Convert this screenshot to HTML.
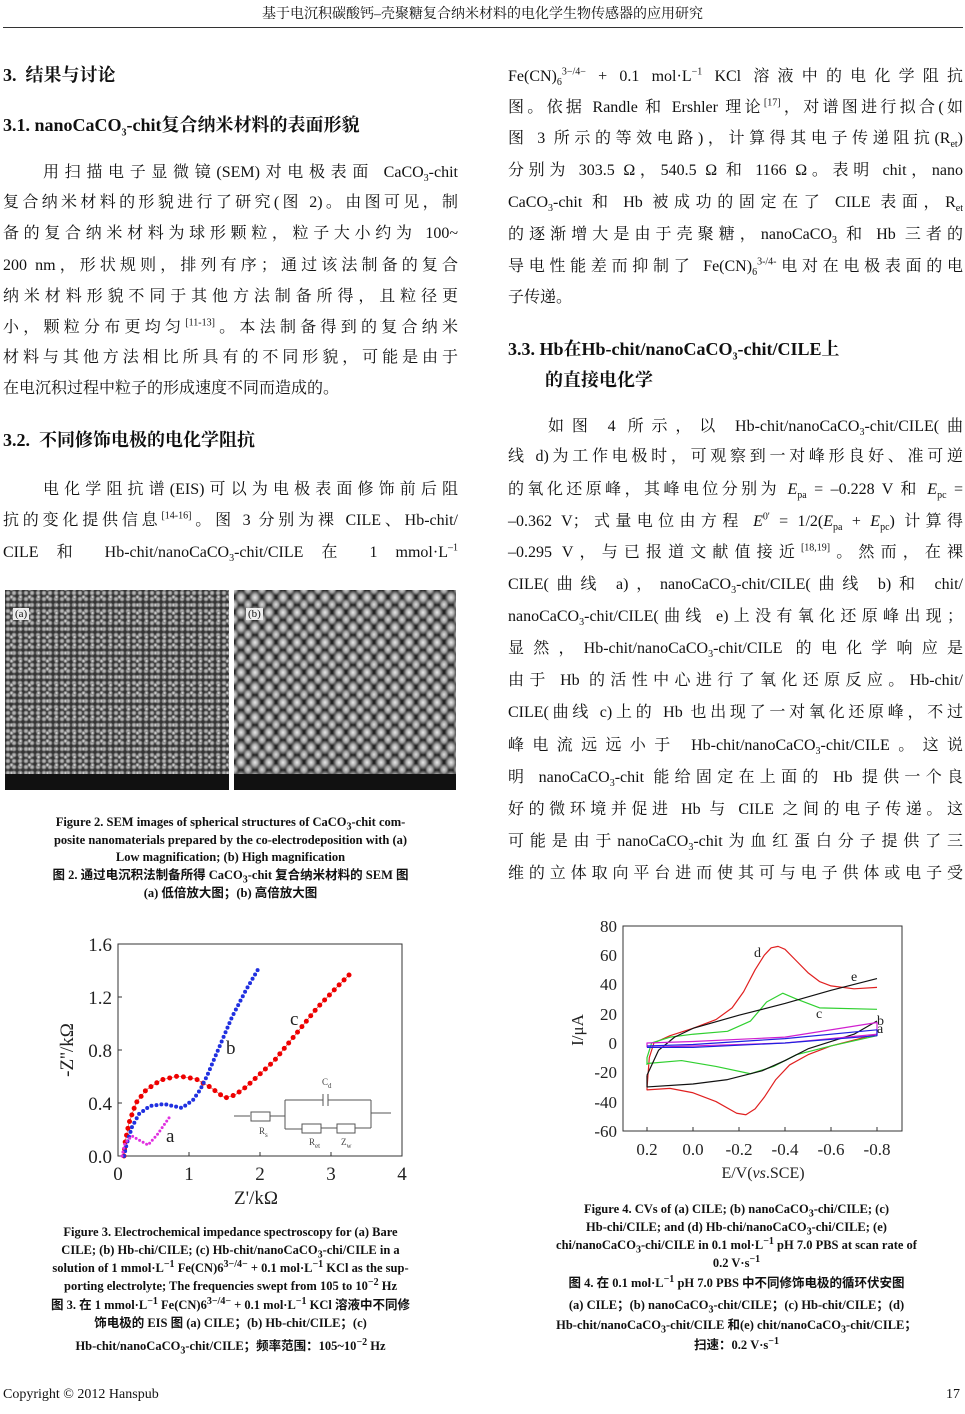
<!DOCTYPE html>
<html><head><meta charset="utf-8">
<style>
body{margin:0;width:965px;height:1414px;position:relative;background:#fff;font-family:"Liberation Serif","Noto Serif CJK SC","Noto Sans CJK SC",serif;color:#111;overflow:hidden}
.l{position:absolute;font-size:16px;line-height:22px;white-space:nowrap}
.L{left:3px;width:455px}
.R{left:508px;width:455px}
.j{text-align:justify;text-align-last:justify}
.h{font-weight:bold;font-size:18px}
.c{position:absolute;font-size:12.5px;font-weight:bold;line-height:18px;text-align:center;white-space:nowrap;font-family:"Liberation Serif","Noto Sans CJK SC",serif}
sub,sup{font-size:10px;line-height:0}
.sem{position:absolute;top:590px;height:200px;background:#555;overflow:hidden}
</style></head><body>
<div style="position:absolute;top:3px;left:0;width:965px;text-align:center;font-size:14px;font-family:'Liberation Serif','Noto Serif CJK SC',serif">基于电沉积碳酸钙–壳聚糖复合纳米材料的电化学生物传感器的应用研究</div>
<div style="position:absolute;top:27px;left:3px;width:960px;border-top:1px solid #333"></div>

<div class="l L h" style="top:64px">3.&nbsp; 结果与讨论</div>
<div class="l L h" style="top:114px">3.1. nanoCaCO<sub>3</sub>-chit复合纳米材料的表面形貌</div>
<div class="l L j" style="top:162px;left:43px;width:415px">用扫描电子显微镜(SEM)对电极表面 CaCO<sub>3</sub>-chit</div>
<div class="l L j" style="top:192px">复合纳米材料的形貌进行了研究(图 2)。由图可见，制</div>
<div class="l L j" style="top:223px">备的复合纳米材料为球形颗粒，粒子大小约为 100~</div>
<div class="l L j" style="top:255px">200 nm，形状规则，排列有序；通过该法制备的复合</div>
<div class="l L j" style="top:286px">纳米材料形貌不同于其他方法制备所得，且粒径更</div>
<div class="l L j" style="top:317px">小，颗粒分布更均匀<sup>[11-13]</sup>。本法制备得到的复合纳米</div>
<div class="l L j" style="top:347px">材料与其他方法相比所具有的不同形貌，可能是由于</div>
<div class="l L" style="top:378px">在电沉积过程中粒子的形成速度不同而造成的。</div>
<div class="l L h" style="top:429px">3.2.&nbsp; 不同修饰电极的电化学阻抗</div>
<div class="l L j" style="top:479px;left:43px;width:415px">电化学阻抗谱(EIS)可以为电极表面修饰前后阻</div>
<div class="l L j" style="top:510px">抗的变化提供信息<sup>[14-16]</sup>。图 3 分别为裸 CILE、Hb-chit/</div>
<div class="l L j" style="top:542px">CILE 和 Hb-chit/nanoCaCO<sub>3</sub>-chit/CILE 在 1 mmol·L<sup>–1</sup></div>

<div class="sem" style="left:5px;width:224px;background:radial-gradient(circle,#ccc 0,#999 1.5px,#333 3px) 0 0/6px 6px,#444"><div style="position:absolute;inset:0;background:radial-gradient(circle,#eee 0,#888 1.5px,transparent 2.5px) 2px 3px/9px 8px"></div><div style="position:absolute;bottom:0;left:0;right:0;height:16px;background:#111"></div><div style="position:absolute;top:18px;left:8px;background:#eee;font-size:11px;padding:0 2px">(a)</div></div>
<div class="sem" style="left:234px;width:222px;background:radial-gradient(ellipse 45% 50%,#e8e8e8 0,#aaa 45%,#555 80%,#222 100%) 0 0/14px 15px,#333"><div style="position:absolute;inset:0;background:radial-gradient(ellipse 40% 45%,#ddd 0,#999 50%,transparent 90%) 7px 7px/14px 15px"></div><div style="position:absolute;bottom:0;left:0;right:0;height:16px;background:#111"></div><div style="position:absolute;top:18px;left:12px;background:#eee;font-size:11px;padding:0 2px">(b)</div></div>

<div class="c" style="top:813px;left:3px;width:455px">Figure 2. SEM images of spherical structures of CaCO<sub>3</sub>-chit com-</div>
<div class="c" style="top:831px;left:3px;width:455px">posite nanomaterials prepared by the co-electrodeposition with (a)</div>
<div class="c" style="top:848px;left:3px;width:455px">Low magnification; (b) High magnification</div>
<div class="c" style="top:866px;left:3px;width:455px">图 2. 通过电沉积法制备所得 CaCO<sub>3</sub>-chit 复合纳米材料的 SEM 图</div>
<div class="c" style="top:884px;left:3px;width:455px">(a) 低倍放大图；(b) 高倍放大图</div>

<svg style="position:absolute;left:0;top:0" width="965" height="1414" font-family="Liberation Serif, serif">
<!-- EIS -->
<rect x="118" y="944" width="284" height="212" fill="none" stroke="#333" stroke-width="1"/>
<g stroke="#333"><line x1="189" y1="1156" x2="189" y2="1152"/><line x1="260" y1="1156" x2="260" y2="1152"/><line x1="331" y1="1156" x2="331" y2="1152"/>
<line x1="118" y1="1103" x2="122" y2="1103"/><line x1="118" y1="1050" x2="122" y2="1050"/><line x1="118" y1="997" x2="122" y2="997"/></g>
<g font-size="19" fill="#222" text-anchor="end"><text x="112" y="1163">0.0</text><text x="112" y="1110">0.4</text><text x="112" y="1057">0.8</text><text x="112" y="1004">1.2</text><text x="112" y="951">1.6</text></g>
<g font-size="19" fill="#222" text-anchor="middle"><text x="118" y="1180">0</text><text x="189" y="1180">1</text><text x="260" y="1180">2</text><text x="331" y="1180">3</text><text x="402" y="1180">4</text><text x="256" y="1204">Z'/kΩ</text></g>
<text transform="translate(73,1050) rotate(-90)" font-size="19" text-anchor="middle" fill="#222">-Z''/kΩ</text>
<polyline fill="none" stroke="#e03030" stroke-width="0.6" points="124,1156 125,1143 129,1123 136,1103 146,1090 161,1080 178,1076 196,1079 210,1087 225,1098 235,1095 246,1087 260,1074 274,1061 296,1034 317,1008 338,986 350,974"/>
<polyline fill="none" stroke="#e00" stroke-width="5" stroke-linecap="round" stroke-dasharray="0 7" points="124,1156 125,1143 129,1123 136,1103 146,1090 161,1080 178,1076 196,1079 210,1087 225,1098 235,1095 246,1087 260,1074 274,1061 296,1034 317,1008 338,986 350,974"/>
<polyline fill="none" stroke="#2030e0" stroke-width="4" stroke-linecap="round" stroke-dasharray="0 5" points="124,1156 127,1143 132,1127 139,1114 150,1106 164,1104 182,1108 193,1100 200,1090 207,1076 221,1043 232,1017 246,990 260,966"/>
<polyline fill="none" stroke="#e030e0" stroke-width="3" stroke-linecap="round" stroke-dasharray="0 4" points="122,1156 125,1143 132,1136 139,1140 148,1145 157,1135 171,1115"/>
<g font-size="19" fill="#222"><text x="166" y="1142">a</text><text x="226" y="1054">b</text><text x="290" y="1025">c</text></g>
<g stroke="#555" fill="none" stroke-width="1"><line x1="234" y1="1116" x2="250" y2="1116"/><rect x="251" y="1112" width="19" height="9"/><line x1="270" y1="1116" x2="285" y2="1116"/><line x1="285" y1="1100" x2="285" y2="1129"/><line x1="285" y1="1100" x2="323" y2="1100"/><line x1="323" y1="1094" x2="323" y2="1106"/><line x1="328" y1="1094" x2="328" y2="1106"/><line x1="328" y1="1100" x2="371" y2="1100"/><line x1="371" y1="1100" x2="371" y2="1128"/><line x1="285" y1="1129" x2="302" y2="1129"/><rect x="302" y="1124" width="19" height="9"/><line x1="321" y1="1128" x2="337" y2="1128"/><rect x="337" y="1124" width="18" height="9"/><line x1="355" y1="1128" x2="371" y2="1128"/><line x1="371" y1="1113" x2="391" y2="1113"/></g>
<g font-size="9" fill="#444"><text x="322" y="1085">C<tspan font-size="7" dy="3">d</tspan></text><text x="259" y="1134">R<tspan font-size="7" dy="3">s</tspan></text><text x="309" y="1145">R<tspan font-size="7" dy="3">et</tspan></text><text x="341" y="1145">Z<tspan font-size="7" dy="3">w</tspan></text></g>

<!-- CV -->
<rect x="623" y="926" width="279" height="205" fill="none" stroke="#333" stroke-width="1"/>
<g stroke="#333"><line x1="647" y1="1131" x2="647" y2="1127"/><line x1="693" y1="1131" x2="693" y2="1127"/><line x1="739" y1="1131" x2="739" y2="1127"/><line x1="785" y1="1131" x2="785" y2="1127"/><line x1="831" y1="1131" x2="831" y2="1127"/><line x1="877" y1="1131" x2="877" y2="1127"/></g>
<g font-size="17" fill="#222" text-anchor="end"><text x="617" y="932">80</text><text x="617" y="961">60</text><text x="617" y="990">40</text><text x="617" y="1020">20</text><text x="617" y="1049">0</text><text x="617" y="1078">-20</text><text x="617" y="1108">-40</text><text x="617" y="1137">-60</text></g>
<g font-size="17" fill="#222" text-anchor="middle"><text x="647" y="1155">0.2</text><text x="693" y="1155">0.0</text><text x="739" y="1155">-0.2</text><text x="785" y="1155">-0.4</text><text x="831" y="1155">-0.6</text><text x="877" y="1155">-0.8</text><text x="763" y="1178" font-size="16">E/V(<tspan font-style="italic">vs</tspan>.SCE)</text></g>
<text transform="translate(583,1030) rotate(-90)" font-size="17" text-anchor="middle" fill="#222">I/μA</text>
<g transform="translate(693,1043) scale(-230,-1.464)" fill="none" stroke-width="1.2" stroke-linejoin="round">
<polyline vector-effect="non-scaling-stroke" stroke="#e02020" points="0.2,-31 0.19,-10 0.17,0 0.1,5 0,10 -0.1,16 -0.17,24 -0.22,35 -0.27,50 -0.31,60 -0.34,65 -0.37,66 -0.4,64 -0.45,56 -0.5,48 -0.55,42 -0.6,39 -0.7,37 -0.8,38"/>
<polyline vector-effect="non-scaling-stroke" stroke="#e02020" points="-0.8,6 -0.7,2 -0.6,-2 -0.5,-8 -0.42,-15 -0.36,-25 -0.31,-37 -0.27,-45 -0.23,-49 -0.19,-48 -0.1,-40 0,-34 0.1,-31 0.2,-32 0.2,-31"/>
<polyline vector-effect="non-scaling-stroke" stroke="#30d030" points="0.2,-15 0.2,-10 0.18,0 0.1,4 0,6 -0.15,8 -0.25,15 -0.32,28 -0.39,34 -0.45,30 -0.55,24 -0.8,23"/>
<polyline vector-effect="non-scaling-stroke" stroke="#30d030" points="-0.8,5 -0.6,-2 -0.45,-8 -0.35,-16 -0.25,-21 -0.1,-16 0.05,-12 0.2,-14"/>
<polyline vector-effect="non-scaling-stroke" stroke="#111" points="0.2,-22 0.15,-5 0.08,4 0,10 -0.2,19 -0.4,27 -0.6,36 -0.8,44"/>
<polyline vector-effect="non-scaling-stroke" stroke="#111" points="-0.8,15 -0.7,6 -0.5,-4 -0.4,-12 -0.3,-19 -0.15,-25 0,-28 0.2,-30 0.2,-22"/>
<polyline vector-effect="non-scaling-stroke" stroke="#d020d0" points="0.2,-3 0.2,0 0,1 -0.4,4 -0.8,14 -0.8,6 -0.4,0 0,-2 0.2,-3"/>
<polyline vector-effect="non-scaling-stroke" stroke="#2020e0" points="0.2,-2 0,-1 -0.4,3 -0.8,9 -0.8,5 -0.4,0 0,-3 0.2,-3"/>
</g>
<g font-size="14" fill="#222"><text x="754" y="957">d</text><text x="851" y="981">e</text><text x="816" y="1018">c</text><text x="877" y="1025">b</text><text x="877" y="1033">a</text></g>
</svg>

<div class="c" style="top:1223px;left:3px;width:455px">Figure 3. Electrochemical impedance spectroscopy for (a) Bare</div>
<div class="c" style="top:1241px;left:3px;width:455px">CILE; (b) Hb-chi/CILE; (c) Hb-chit/nanoCaCO<sub>3</sub>-chi/CILE in a</div>
<div class="c" style="top:1259px;left:3px;width:455px">solution of 1 mmol·L<sup>−1</sup> Fe(CN)6<sup>3−/4−</sup> + 0.1 mol·L<sup>−1</sup> KCl as the sup-</div>
<div class="c" style="top:1277px;left:3px;width:455px">porting electrolyte; The frequencies swept from 105 to 10<sup>−2</sup> Hz</div>
<div class="c" style="top:1296px;left:3px;width:455px">图 3. 在 1 mmol·L<sup>−1</sup> Fe(CN)6<sup>3−/4−</sup> + 0.1 mol·L<sup>−1</sup> KCl 溶液中不同修</div>
<div class="c" style="top:1314px;left:3px;width:455px">饰电极的 EIS 图 (a) CILE；(b) Hb-chit/CILE；(c)</div>
<div class="c" style="top:1337px;left:3px;width:455px">Hb-chit/nanoCaCO<sub>3</sub>-chit/CILE；频率范围：105~10<sup>−2</sup> Hz</div>

<div class="l R j" style="top:66px">Fe(CN)<sub>6</sub><sup>3−/4−</sup> + 0.1 mol·L<sup>−1</sup> KCl 溶液中的电化学阻抗</div>
<div class="l R j" style="top:97px">图。依据 Randle 和 Ershler 理论<sup>[17]</sup>，对谱图进行拟合(如</div>
<div class="l R j" style="top:128px">图 3 所示的等效电路)，计算得其电子传递阻抗(R<sub>et</sub>)</div>
<div class="l R j" style="top:160px">分别为 303.5 Ω，540.5 Ω 和 1166 Ω。表明 chit，nano</div>
<div class="l R j" style="top:192px">CaCO<sub>3</sub>-chit 和 Hb 被成功的固定在了 CILE 表面，R<sub>et</sub></div>
<div class="l R j" style="top:224px">的逐渐增大是由于壳聚糖，nanoCaCO<sub>3</sub> 和 Hb 三者的</div>
<div class="l R j" style="top:256px">导电性能差而抑制了 Fe(CN)<sub>6</sub><sup>3-/4-</sup>电对在电极表面的电</div>
<div class="l R" style="top:287px">子传递。</div>
<div class="l R h" style="top:338px">3.3. Hb在Hb-chit/nanoCaCO<sub>3</sub>-chit/CILE上</div>
<div class="l R h" style="top:369px;left:545px">的直接电化学</div>
<div class="l R j" style="top:416px;left:548px;width:415px">如图 4 所示，以 Hb-chit/nanoCaCO<sub>3</sub>-chit/CILE(曲</div>
<div class="l R j" style="top:446px">线 d)为工作电极时，可观察到一对峰形良好、准可逆</div>
<div class="l R j" style="top:479px">的氧化还原峰，其峰电位分别为 <i>E</i><sub>pa</sub> = –0.228 V 和 <i>E</i><sub>pc</sub> =</div>
<div class="l R j" style="top:511px">–0.362 V；式量电位由方程 <i>E</i><sup>0'</sup> = 1/2(<i>E</i><sub>pa</sub> + <i>E</i><sub>pc</sub>) 计算得</div>
<div class="l R j" style="top:542px">–0.295 V，与已报道文献值接近<sup>[18,19]</sup>。然而，在裸</div>
<div class="l R j" style="top:574px">CILE(曲线 a)，nanoCaCO<sub>3</sub>-chit/CILE(曲线 b)和 chit/</div>
<div class="l R j" style="top:606px">nanoCaCO<sub>3</sub>-chit/CILE(曲线 e)上没有氧化还原峰出现；</div>
<div class="l R j" style="top:638px">显然，Hb-chit/nanoCaCO<sub>3</sub>-chit/CILE 的电化学响应是</div>
<div class="l R j" style="top:670px">由于 Hb 的活性中心进行了氧化还原反应。Hb-chit/</div>
<div class="l R j" style="top:702px">CILE(曲线 c)上的 Hb 也出现了一对氧化还原峰，不过</div>
<div class="l R j" style="top:735px">峰电流远远小于 Hb-chit/nanoCaCO<sub>3</sub>-chit/CILE。这说</div>
<div class="l R j" style="top:767px">明 nanoCaCO<sub>3</sub>-chit 能给固定在上面的 Hb 提供一个良</div>
<div class="l R j" style="top:799px">好的微环境并促进 Hb 与 CILE 之间的电子传递。这</div>
<div class="l R j" style="top:831px">可能是由于nanoCaCO<sub>3</sub>-chit为血红蛋白分子提供了三</div>
<div class="l R j" style="top:863px">维的立体取向平台进而使其可与电子供体或电子受</div>

<div class="c" style="top:1200px;left:508px;width:457px">Figure 4. CVs of (a) CILE; (b) nanoCaCO<sub>3</sub>-chi/CILE; (c)</div>
<div class="c" style="top:1218px;left:508px;width:457px">Hb-chi/CILE; and (d) Hb-chi/nanoCaCO<sub>3</sub>-chi/CILE; (e)</div>
<div class="c" style="top:1236px;left:508px;width:457px">chi/nanoCaCO<sub>3</sub>-chi/CILE in 0.1 mol·L<sup>−1</sup> pH 7.0 PBS at scan rate of</div>
<div class="c" style="top:1254px;left:508px;width:457px">0.2 V·s<sup>−1</sup></div>
<div class="c" style="top:1274px;left:508px;width:457px">图 4. 在 0.1 mol·L<sup>−1</sup> pH 7.0 PBS 中不同修饰电极的循环伏安图</div>
<div class="c" style="top:1296px;left:508px;width:457px">(a) CILE；(b) nanoCaCO<sub>3</sub>-chit/CILE；(c) Hb-chit/CILE；(d)</div>
<div class="c" style="top:1316px;left:508px;width:457px">Hb-chit/nanoCaCO<sub>3</sub>-chit/CILE 和(e) chit/nanoCaCO<sub>3</sub>-chit/CILE；</div>
<div class="c" style="top:1336px;left:508px;width:457px">扫速：0.2 V·s<sup>−1</sup></div>

<div style="position:absolute;top:1387px;left:3px;font-size:14px">Copyright © 2012 Hanspub</div>
<div style="position:absolute;top:1387px;right:5px;font-size:14px">17</div>
</body></html>
